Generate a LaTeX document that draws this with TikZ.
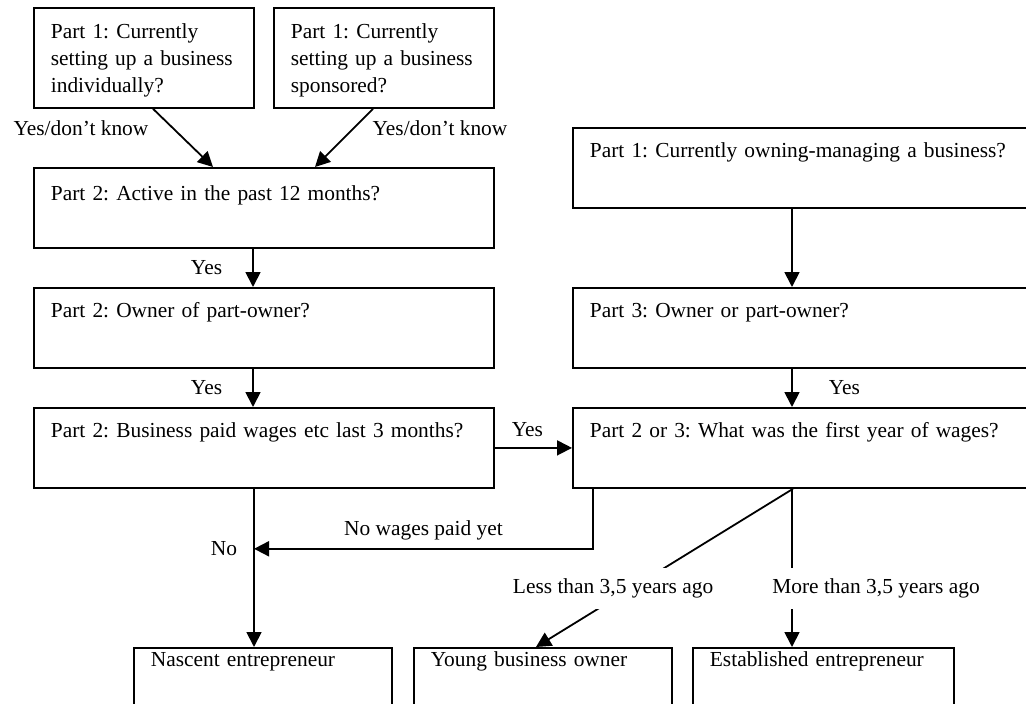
\documentclass[tikz,border=0pt]{standalone}
\usepackage{fontspec}
\setmainfont{Liberation Serif}
\usetikzlibrary{arrows.meta,positioning}

\begin{document}
\begin{tikzpicture}[x=1pt,y=-1pt,
    font=\fontsize{21.4}{27}\selectfont\frenchspacing,
    qbox/.style={draw,line width=1.8pt,anchor=north west,align=left,inner xsep=17pt,inner ysep=0pt,text height=30pt,text depth=50pt},
    topbox/.style={qbox,text width=186pt,text height=31pt,text depth=69pt},
    endbox/.style={qbox,text height=19pt,text depth=61pt},
    lbl/.style={inner sep=2pt},
    arr/.style={-{Triangle[length=15pt,width=15pt]},line width=1.8pt}]
    \useasboundingbox (0,0) rectangle (1026,704);
    \clip (0,0) rectangle (1026,704);
    \node[topbox] (indiv) at (33,7) {Part 1: Currently\\setting up a business\\individually?};
    \node[topbox] (spons) at (273,7) {Part 1: Currently\\setting up a business\\sponsored?};
    \node[qbox,text width=426pt,text height=33pt,text depth=47pt] (active) at (33,167) {Part 2: Active in the past 12 months?};
    \node[qbox,text width=426pt] (owner) at (33,287) {Part 2: Owner of part-owner?};
    \node[qbox,text width=426pt] (wages) at (33,407) {Part 2: Business paid wages etc last 3 months?};
    \node[qbox,text width=466pt] (manage) at (572,127) {Part 1: Currently owning-managing a business?};
    \node[qbox,text width=466pt] (partown) at (572,287) {Part 3: Owner or part-owner?};
    \node[qbox,text width=466pt] (firstyr) at (572,407) {Part 2 or 3: What was the first year of wages?};
    \node[endbox,text width=224pt] (nascent) at (133,647) {Nascent entrepreneur};
    \node[endbox,text width=224pt] (young) at (413,647) {Young business owner};
    \node[endbox,text width=227pt] (estab) at (692,647) {Established entrepreneur};
    \coordinate (nowage) at ([xshift=221pt,yshift=-60pt]wages.south west);
    \draw[arr] ([xshift=120pt]indiv.south west) -- ([xshift=180pt]active.north west);
    \draw[arr] ([xshift=100pt]spons.south west) -- ([xshift=282pt]active.north west);
    \node[lbl] (yd1) at (81,128) {Yes/don’t know};
    \node[lbl] (yd2) at (440,128) {Yes/don’t know};
    \draw[arr] ([xshift=220pt]active.south west) -- node[lbl,left=28pt] {Yes} ([xshift=220pt]owner.north west);
    \draw[arr] ([xshift=220pt]owner.south west) -- node[lbl,left=28pt] {Yes} ([xshift=220pt]wages.north west);
    \draw[arr] ([xshift=221pt]wages.south west) -- node[lbl,left=14pt,pos=0.38] {No} ([xshift=121pt]nascent.north west);
    \draw[arr] (wages.east) -- node[lbl,above=8pt,xshift=-6pt] {Yes} (firstyr.west);
    \draw[arr] ([xshift=220pt]manage.south west) -- ([xshift=220pt]partown.north west);
    \draw[arr] ([xshift=220pt]partown.south west) -- node[lbl,right=34pt] {Yes} ([xshift=220pt]firstyr.north west);
    \draw[arr] ([xshift=21pt]firstyr.south west) |- node[lbl,pos=0.75,above=6pt] {No wages paid yet} (nowage);
    \draw[arr] ([xshift=221pt]firstyr.south west) -- node[lbl,fill=white,inner ysep=11pt,pos=0.63,xshift=-18pt] {Less than 3,5 years ago} ([xshift=123pt]young.north west);
    \draw[arr] ([xshift=220pt]firstyr.south west) -- node[lbl,fill=white,inner ysep=11pt,pos=0.63,xshift=84pt] {More than 3,5 years ago} ([xshift=100pt]estab.north west);
\end{tikzpicture}
\end{document}
